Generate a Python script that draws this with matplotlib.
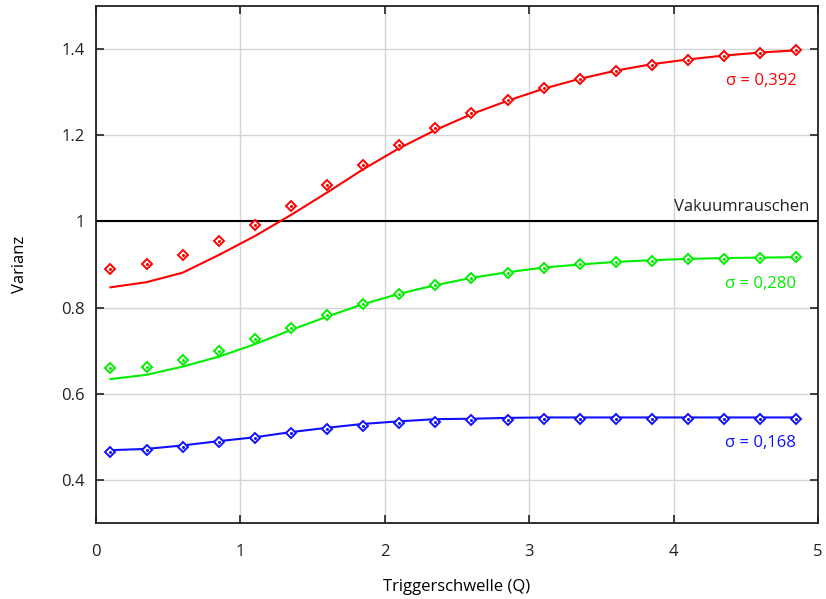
import numpy as np
import matplotlib.pyplot as plt

plt.rcParams['font.family'] = ['Open Sans', 'DejaVu Sans']

# Data
x = [0.1, 0.35, 0.6, 0.85, 1.1, 1.35, 1.6, 1.85, 2.1, 2.35,
     2.6, 2.85, 3.1, 3.35, 3.6, 3.85, 4.1, 4.35, 4.6, 4.85]

red_meas = [0.890, 0.900, 0.922, 0.955, 0.992, 1.036, 1.084, 1.132, 1.177, 1.216,
            1.251, 1.282, 1.309, 1.331, 1.349, 1.364, 1.375, 1.384, 1.391, 1.397]
red_fit = [0.847, 0.859, 0.881, 0.922, 0.966, 1.015, 1.067, 1.121, 1.170, 1.212,
           1.249, 1.280, 1.308, 1.331, 1.350, 1.365, 1.376, 1.385, 1.392, 1.397]

green_meas = [0.659, 0.663, 0.678, 0.699, 0.726, 0.753, 0.782, 0.809, 0.832, 0.853,
              0.868, 0.881, 0.893, 0.900, 0.906, 0.909, 0.912, 0.913, 0.915, 0.917]
green_fit = [0.634, 0.644, 0.663, 0.686, 0.715, 0.748, 0.779, 0.808, 0.832, 0.852,
             0.869, 0.882, 0.893, 0.900, 0.906, 0.910, 0.913, 0.915, 0.916, 0.917]

blue_meas = [0.464, 0.470, 0.477, 0.487, 0.498, 0.509, 0.518, 0.526, 0.532, 0.535,
             0.538, 0.539, 0.541, 0.541, 0.542, 0.542, 0.542, 0.542, 0.542, 0.542]
blue_fit = [0.469, 0.472, 0.480, 0.490, 0.499, 0.511, 0.521, 0.530, 0.536, 0.541,
            0.542, 0.544, 0.545, 0.545, 0.545, 0.545, 0.545, 0.545, 0.545, 0.545]

labels = ['σ = 0,392', 'σ = 0,280', 'σ = 0,168']
label_y = [1.325, 0.855, 0.485]
colors = ['#ff0000', '#00ee00', '#1010ff']

xticks = [0, 1, 2, 3, 4, 5]
yticks = [0.4, 0.6, 0.8, 1.0, 1.2, 1.4]
ytick_labels = ['0.4', '0.6', '0.8', '1', '1.2', '1.4']

# Plot
fig = plt.figure(figsize=(8.26, 5.99), dpi=100)
ax = fig.add_axes([96 / 826, 1 - 523 / 599, 722 / 826, 517 / 599])

series = [(red_meas, red_fit), (green_meas, green_fit), (blue_meas, blue_fit)]
for (meas, fit), c, lab, ly in zip(series, colors, labels, label_y):
    ax.plot(x, fit, color=c, lw=1.5, zorder=3)
    ax.plot(x, meas, ls='none', marker='D', ms=5.5, mfc='white', mec=c, mew=1.4, zorder=4)
    ax.plot(x, meas, ls='none', marker='o', ms=1.2, color=c, zorder=5)
    ax.text(4.85, ly, lab, color=c, ha='right', va='center', fontsize=12)

ax.axhline(1.0, color='black', lw=1.5, zorder=2)
ax.text(4.94, 1.033, 'Vakuumrauschen', ha='right', va='center', fontsize=12, color='#222222')

ax.set_xlim(0, 5)
ax.set_ylim(0.3, 1.5)
ax.set_xticks(xticks)
ax.set_yticks(yticks)
ax.set_yticklabels(ytick_labels)
ax.grid(color='#d4d4d4', lw=1)
ax.set_axisbelow(True)
ax.tick_params(direction='in', length=6, width=1.2, top=True, right=True,
               labelsize=12, colors='#222222')
ax.tick_params(axis='x', pad=15)
ax.tick_params(axis='y', pad=8)
for s in ax.spines.values():
    s.set_linewidth(1.3)
    s.set_color('#222222')

ax.set_xlabel('Triggerschwelle (Q)', fontsize=12, labelpad=14)
ax.set_ylabel('Varianz', fontsize=12, labelpad=24)

fig.savefig('out.png', dpi=100)
